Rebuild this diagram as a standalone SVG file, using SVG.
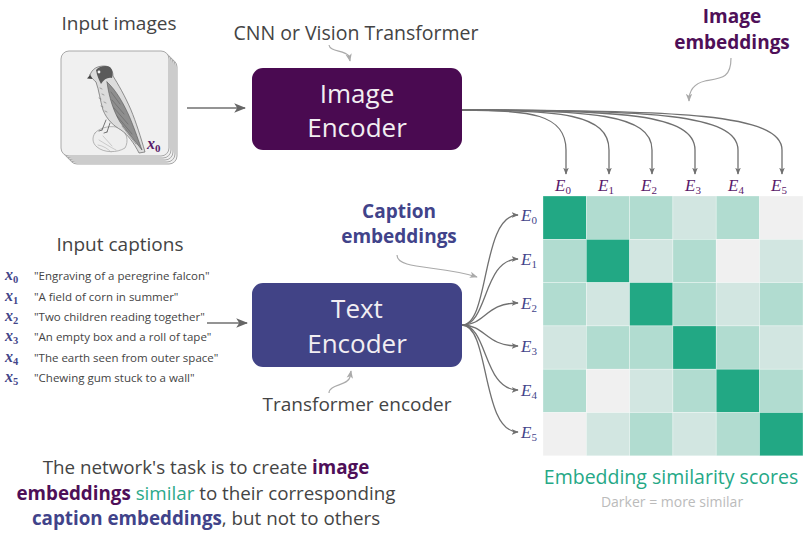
<svg xmlns="http://www.w3.org/2000/svg" width="804" height="533" viewBox="0 0 804 533">
  <style>
    .sans { font-family: "Open Sans", "Noto Sans", "DejaVu Sans", sans-serif; }
    .label { font-size: 19px; fill: #444; }
    .math { font-family: "Liberation Serif", "DejaVu Serif", serif; font-style: italic; }
    .enc { font-size: 26px; fill: #f2eef2; text-anchor: middle; }
    .cap { font-size: 11.5px; fill: #444; }
    .xi { font-size: 16px; fill: #43458a; font-weight: bold; }
    .conn { fill: none; stroke: #707070; stroke-width: 1.3; }
    .hint { fill: none; stroke: #aaa; stroke-width: 1.2; }
    .card { fill: #f0f0f0; stroke: #a8a8a8; stroke-width: 1; }
    .d { fill: #22a884; }
    .m { fill: #b1dcd0; }
    .l { fill: #d2e6e1; }
    .v { fill: #f0f0f0; }
    .grid rect { stroke: #ffffff; stroke-opacity: 0.5; stroke-width: 0.6; }
  </style>
  <defs>
    <marker id="ah" viewBox="0 0 10 10" refX="9" refY="5" markerWidth="7" markerHeight="7" orient="auto" markerUnits="userSpaceOnUse">
      <path d="M0,1 L10,5 L0,9 L2.5,5 Z" fill="#707070"/>
    </marker>
    <marker id="ahBig" viewBox="0 0 10 10" refX="9" refY="5" markerWidth="12" markerHeight="12" orient="auto" markerUnits="userSpaceOnUse">
      <path d="M0,1 L10,5 L0,9 L2.5,5 Z" fill="#666"/>
    </marker>
    <marker id="ahHint" viewBox="0 0 10 10" refX="9" refY="5" markerWidth="8" markerHeight="8" orient="auto" markerUnits="userSpaceOnUse">
      <path d="M0,1 L10,5 L0,9 L2.5,5 Z" fill="#aaa"/>
    </marker>
  </defs>

  <rect width="804" height="533" fill="#ffffff"/>

  <!-- Input image stack -->
  <g id="input-images">
    <text class="sans label" x="119" y="30" text-anchor="middle">Input images</text>
    <rect class="card" x="69" y="59" width="108" height="105" rx="8"/>
    <rect class="card" x="67" y="57" width="108" height="105" rx="8"/>
    <rect class="card" x="65" y="55" width="108" height="105" rx="8"/>
    <rect class="card" x="63" y="53" width="108" height="105" rx="8"/>
    <rect class="card" x="61" y="51" width="108" height="105" rx="8"/>
    <!-- engraved falcon on a rock -->
    <g stroke-linejoin="round" stroke-linecap="round">
      <path d="M95,133 C100,127 112,125 120,128 C127,132 129,141 125,148 C117,153 104,153 97,147 C92,143 92,137 95,133 Z" fill="#eeeeee" stroke="#9a9a9a" stroke-width="0.7"/>
      <path d="M99,140 C104,143 110,147 116,150 M103,136 L112,146 M98,145 C104,146 108,149 111,152" fill="none" stroke="#b0b0b0" stroke-width="0.6"/>
      <path d="M90,75 C92,69 97,66 104,66 C110,66 113,70 113,76 C118,84 125,96 131,110 C136,122 141,138 145,152 L139,153 C134,143 128,135 121,130 C114,126 107,120 103,110 C100,100 99,90 96,82 C94,80 91,78 90,75 Z" fill="#dcdcdc" stroke="#666" stroke-width="0.7"/>
      <path d="M107,82 C116,90 124,104 130,118 C135,130 139,142 142,150 C134,140 126,130 120,122 C114,112 109,98 107,82 Z" fill="#8e8e8e" stroke="#555" stroke-width="0.6"/>
      <path d="M111,92 L120,104 M112,100 L124,114 M114,108 L128,124 M117,116 L132,134 M122,126 L136,144" fill="none" stroke="#5c5c5c" stroke-width="0.5"/>
      <path d="M96,70 C99,66 106,65 110,67 C113,70 113,75 112,78 C108,77 104,79 101,84 C99,80 97,76 96,70 Z" fill="#5a5a5a"/>
      <circle cx="99" cy="72" r="1.4" fill="#f4f4f4"/>
      <path d="M90,75 L87,78.5 L92.5,79 Z" fill="#444"/>
      <path d="M100,88 l2,1 M102,94 l2,1 M99,98 l2,1 M104,102 l2,1 M101,106 l2,1 M105,111 l2,1" fill="none" stroke="#777" stroke-width="0.6"/>
      <path d="M106,120 L102,130 M110,123 L107,132 M102,130 l-3,1 M107,132 l-3,1" fill="none" stroke="#555" stroke-width="0.8"/>
    </g>
    <text class="math" x="147" y="149" font-size="16" font-weight="bold" fill="#5a1a6a">x<tspan font-size="11" dy="3" font-style="normal">0</tspan></text>
  </g>

  <!-- Image encoder -->
  <g id="image-encoder">
    <text class="sans" x="356" y="40" font-size="19.5" fill="#444" text-anchor="middle">CNN or Vision Transformer</text>
    <path class="hint" d="M329,45 C330,52 344,50 349,56 L350,61" marker-end="url(#ahHint)"/>
    <rect x="252" y="68" width="210" height="82" rx="11" fill="#4a0a51"/>
    <text class="sans enc" x="357" y="103">Image</text>
    <text class="sans enc" x="357" y="137">Encoder</text>
  </g>

  <!-- Image embeddings callout -->
  <g id="image-embeddings-label">
    <text class="sans" x="732" y="23" font-size="19" font-weight="bold" fill="#4e0f58" text-anchor="middle">Image</text>
    <text class="sans" x="732" y="49" font-size="19" font-weight="bold" fill="#4e0f58" text-anchor="middle">embeddings</text>
    <path class="hint" d="M731,58 C731,78 722,78 705,81 C692,84 689,92 689,101" marker-end="url(#ahHint)"/>
  </g>

  <!-- Input captions -->
  <g id="input-captions">
    <text class="sans label" x="120" y="251" text-anchor="middle">Input captions</text>
    <g class="math xi">
      <text x="5" y="280">x<tspan font-size="10.5" dy="3" font-style="normal">0</tspan></text>
      <text x="5" y="301">x<tspan font-size="10.5" dy="3" font-style="normal">1</tspan></text>
      <text x="5" y="321">x<tspan font-size="10.5" dy="3" font-style="normal">2</tspan></text>
      <text x="5" y="341">x<tspan font-size="10.5" dy="3" font-style="normal">3</tspan></text>
      <text x="5" y="362">x<tspan font-size="10.5" dy="3" font-style="normal">4</tspan></text>
      <text x="5" y="382">x<tspan font-size="10.5" dy="3" font-style="normal">5</tspan></text>
    </g>
    <g class="sans cap">
      <text x="34" y="280">"Engraving of a peregrine falcon"</text>
      <text x="34" y="301">"A field of corn in summer"</text>
      <text x="34" y="321">"Two children reading together"</text>
      <text x="34" y="341">"An empty box and a roll of tape"</text>
      <text x="34" y="362">"The earth seen from outer space"</text>
      <text x="34" y="382">"Chewing gum stuck to a wall"</text>
    </g>
  </g>

  <!-- Text encoder -->
  <g id="text-encoder">
    <rect x="252" y="283" width="210" height="84" rx="11" fill="#414386"/>
    <text class="sans enc" x="357" y="318">Text</text>
    <text class="sans enc" x="357" y="353">Encoder</text>
    <text class="sans label" x="357" y="411" text-anchor="middle">Transformer encoder</text>
    <path class="hint" d="M329,393 C329,384 348,386 350,377 L351,371" marker-end="url(#ahHint)"/>
  </g>

  <!-- Caption embeddings callout -->
  <g id="caption-embeddings-label">
    <text class="sans" x="399" y="218" font-size="19" font-weight="bold" fill="#41438a" text-anchor="middle">Caption</text>
    <text class="sans" x="399" y="243" font-size="19" font-weight="bold" fill="#41438a" text-anchor="middle">embeddings</text>
    <path class="hint" d="M397,255 C397,270 440,265 477,277" marker-end="url(#ahHint)"/>
  </g>

  <!-- Connectors -->
  <g id="connectors">
    <path class="conn" d="M187,108 L245,108" marker-end="url(#ahBig)"/>
    <path class="conn" d="M207,323 L247,323" marker-end="url(#ahBig)"/>
    <!-- image encoder to image embeddings -->
    <path class="conn" d="M462,110 C530,110 566,114 566,150 L566,174" marker-end="url(#ah)"/>
    <path class="conn" d="M462,110 C560,110 609,114 609,150 L609,174" marker-end="url(#ah)"/>
    <path class="conn" d="M462,110 C590,110 652,114 652,150 L652,174" marker-end="url(#ah)"/>
    <path class="conn" d="M462,110 C620,110 695,114 695,150 L695,174" marker-end="url(#ah)"/>
    <path class="conn" d="M462,110 C650,110 738,114 738,150 L738,174" marker-end="url(#ah)"/>
    <path class="conn" d="M462,110 C680,110 782,114 782,150 L782,174" marker-end="url(#ah)"/>
    <!-- text encoder to caption embeddings -->
    <path class="conn" d="M462,325 C490,325 481,215 518,215" marker-end="url(#ah)"/>
    <path class="conn" d="M462,325 C488,325 483,259 518,259" marker-end="url(#ah)"/>
    <path class="conn" d="M462,325 C486,325 485,303 518,303" marker-end="url(#ah)"/>
    <path class="conn" d="M462,325 C486,325 485,346 518,346" marker-end="url(#ah)"/>
    <path class="conn" d="M462,325 C488,325 483,390 518,390" marker-end="url(#ah)"/>
    <path class="conn" d="M462,325 C490,325 481,432 518,432" marker-end="url(#ah)"/>
  </g>

  <!-- Image embedding labels -->
  <g id="image-embeddings" class="math" font-size="17" fill="#5a1a6a" text-anchor="middle">
    <text x="563" y="191">E<tspan font-size="11" dy="3" font-style="normal">0</tspan></text>
    <text x="606" y="191">E<tspan font-size="11" dy="3" font-style="normal">1</tspan></text>
    <text x="649" y="191">E<tspan font-size="11" dy="3" font-style="normal">2</tspan></text>
    <text x="693" y="191">E<tspan font-size="11" dy="3" font-style="normal">3</tspan></text>
    <text x="736" y="191">E<tspan font-size="11" dy="3" font-style="normal">4</tspan></text>
    <text x="779" y="191">E<tspan font-size="11" dy="3" font-style="normal">5</tspan></text>
  </g>

  <!-- Caption embedding labels -->
  <g id="caption-embeddings" class="math" font-size="17" fill="#43458a">
    <text x="521" y="221">E<tspan font-size="11" dy="3" font-style="normal">0</tspan></text>
    <text x="521" y="265">E<tspan font-size="11" dy="3" font-style="normal">1</tspan></text>
    <text x="521" y="309">E<tspan font-size="11" dy="3" font-style="normal">2</tspan></text>
    <text x="521" y="352">E<tspan font-size="11" dy="3" font-style="normal">3</tspan></text>
    <text x="521" y="396">E<tspan font-size="11" dy="3" font-style="normal">4</tspan></text>
    <text x="521" y="438">E<tspan font-size="11" dy="3" font-style="normal">5</tspan></text>
  </g>

  <!-- Similarity matrix -->
  <g id="similarity-matrix" class="grid">
    <rect class="d" x="543.0" y="196.0" width="43.3" height="43.3"/>
    <rect class="m" x="586.3" y="196.0" width="43.3" height="43.3"/>
    <rect class="m" x="629.6" y="196.0" width="43.3" height="43.3"/>
    <rect class="l" x="672.9" y="196.0" width="43.3" height="43.3"/>
    <rect class="m" x="716.2" y="196.0" width="43.3" height="43.3"/>
    <rect class="v" x="759.5" y="196.0" width="43.5" height="43.3"/>

    <rect class="m" x="543.0" y="239.3" width="43.3" height="43.3"/>
    <rect class="d" x="586.3" y="239.3" width="43.3" height="43.3"/>
    <rect class="l" x="629.6" y="239.3" width="43.3" height="43.3"/>
    <rect class="m" x="672.9" y="239.3" width="43.3" height="43.3"/>
    <rect class="v" x="716.2" y="239.3" width="43.3" height="43.3"/>
    <rect class="l" x="759.5" y="239.3" width="43.5" height="43.3"/>

    <rect class="m" x="543.0" y="282.6" width="43.3" height="43.3"/>
    <rect class="l" x="586.3" y="282.6" width="43.3" height="43.3"/>
    <rect class="d" x="629.6" y="282.6" width="43.3" height="43.3"/>
    <rect class="m" x="672.9" y="282.6" width="43.3" height="43.3"/>
    <rect class="l" x="716.2" y="282.6" width="43.3" height="43.3"/>
    <rect class="m" x="759.5" y="282.6" width="43.5" height="43.3"/>

    <rect class="l" x="543.0" y="325.9" width="43.3" height="43.3"/>
    <rect class="m" x="586.3" y="325.9" width="43.3" height="43.3"/>
    <rect class="m" x="629.6" y="325.9" width="43.3" height="43.3"/>
    <rect class="d" x="672.9" y="325.9" width="43.3" height="43.3"/>
    <rect class="m" x="716.2" y="325.9" width="43.3" height="43.3"/>
    <rect class="l" x="759.5" y="325.9" width="43.5" height="43.3"/>

    <rect class="m" x="543.0" y="369.2" width="43.3" height="43.3"/>
    <rect class="v" x="586.3" y="369.2" width="43.3" height="43.3"/>
    <rect class="l" x="629.6" y="369.2" width="43.3" height="43.3"/>
    <rect class="m" x="672.9" y="369.2" width="43.3" height="43.3"/>
    <rect class="d" x="716.2" y="369.2" width="43.3" height="43.3"/>
    <rect class="m" x="759.5" y="369.2" width="43.5" height="43.3"/>

    <rect class="v" x="543.0" y="412.5" width="43.3" height="43.3"/>
    <rect class="l" x="586.3" y="412.5" width="43.3" height="43.3"/>
    <rect class="m" x="629.6" y="412.5" width="43.3" height="43.3"/>
    <rect class="l" x="672.9" y="412.5" width="43.3" height="43.3"/>
    <rect class="m" x="716.2" y="412.5" width="43.3" height="43.3"/>
    <rect class="d" x="759.5" y="412.5" width="43.5" height="43.3"/>
  </g>

  <!-- Matrix caption -->
  <g id="matrix-caption">
    <text class="sans" x="671" y="484" font-size="19.5" fill="#25a886" text-anchor="middle">Embedding similarity scores</text>
    <text class="sans" x="672" y="507" font-size="14" fill="#bbbbbb" text-anchor="middle">Darker = more similar</text>
  </g>

  <!-- Summary text -->
  <g id="summary" class="sans" font-size="18.8" fill="#444" text-anchor="middle">
    <text x="206" y="474">The network's task is to create <tspan font-weight="bold" fill="#4e0f58">image</tspan></text>
    <text x="206" y="499.6"><tspan font-weight="bold" fill="#4e0f58">embeddings</tspan> <tspan fill="#2aa98a">similar</tspan> to their corresponding</text>
    <text x="206" y="525.2"><tspan font-weight="bold" fill="#41438a">caption embeddings</tspan>, but not to others</text>
  </g>
</svg>
